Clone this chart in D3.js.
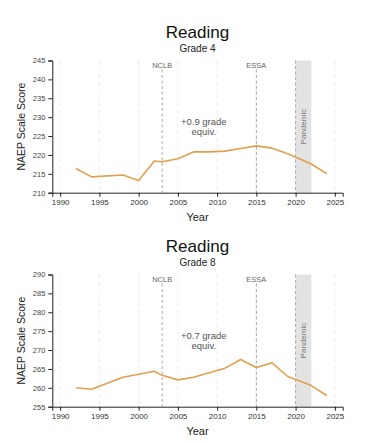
<!DOCTYPE html>
<html>
<head>
    <script src="https://cdnjs.cloudflare.com/ajax/libs/d3/7.8.5/d3.min.js"></script>
    <style>
        body { margin: 0; background: #fff; }
        text { font-family: "Liberation Sans", Arial, sans-serif; }
        .domain, .tick line { stroke: #222; }
    </style>
</head>
<body>
    <svg width="386" height="441"></svg>
    <script>
        // Data
        const years = [1992, 1994, 1998, 2000, 2002, 2003, 2005, 2007, 2009, 2011, 2013, 2015, 2017, 2019, 2022, 2024];
        const grade4 = [216.4, 214.2, 214.7, 213.2, 218.4, 218.2, 219.0, 220.8, 220.8, 221.0, 221.7, 222.4, 221.8, 220.3, 217.6, 215.0];
        const grade8 = [260.0, 259.6, 262.8, 263.6, 264.4, 263.3, 262.1, 262.8, 264.0, 265.2, 267.5, 265.4, 266.6, 263.0, 260.6, 257.9];
        const xTicks = [1990, 1995, 2000, 2005, 2010, 2015, 2020, 2025];
        const events = [{ year: 2003, label: "NCLB" }, { year: 2015, label: "ESSA" }];
        const pandemic = [2020, 2022];

        const charts = [
            { title: "Reading", sub: "Grade 4", values: grade4, yDomain: [210, 245], note: ["+0.9 grade", "equiv."], top: 0 },
            { title: "Reading", sub: "Grade 8", values: grade8, yDomain: [255, 290], note: ["+0.7 grade", "equiv."], top: 214 }
        ];

        const svg = d3.select("svg");
        const x = d3.scaleLinear().domain([1989, 2026]).range([52.3, 342.7]);

        charts.forEach(c => {
            const g = svg.append("g").attr("transform", `translate(0,${c.top})`);
            const y = d3.scaleLinear().domain(c.yDomain).range([192.7, 60.5]);
            const y0 = y.range()[0], y1 = y.range()[1];

            // title
            g.append("text").attr("x", 197.5).attr("y", 37.5)
                .attr("text-anchor", "middle").style("font-size", "17px").attr("fill", "#111")
                .text(c.title);
            g.append("text").attr("x", 197.5).attr("y", 51.5)
                .attr("text-anchor", "middle").style("font-size", "10px").attr("fill", "#222")
                .text(c.sub);

            // light grid
            g.selectAll(".grid").data(xTicks).enter().append("line")
                .attr("x1", d => x(d)).attr("x2", d => x(d))
                .attr("y1", y1).attr("y2", y0)
                .attr("stroke", "#e6e6e6").attr("stroke-width", 0.8)
                .attr("stroke-dasharray", "4,3");

            // pandemic band
            g.append("rect")
                .attr("x", x(pandemic[0])).attr("width", x(pandemic[1]) - x(pandemic[0]))
                .attr("y", y1).attr("height", y0 - y1)
                .attr("fill", "#e3e3e3");
            g.append("text")
                .attr("transform", `translate(${(x(pandemic[0]) + x(pandemic[1])) / 2 + 2.5},${(y0 + y1) / 2}) rotate(-90)`)
                .attr("text-anchor", "middle").style("font-size", "8px").attr("fill", "#777")
                .text("Pandemic");

            // event lines
            const ev = events.concat([{ year: pandemic[0], label: "" }]);
            g.selectAll(".ev").data(ev).enter().append("line")
                .attr("x1", d => x(d.year)).attr("x2", d => x(d.year))
                .attr("y1", d => d.label ? y1 + 9 : y1).attr("y2", y0)
                .attr("stroke", "#aaa").attr("stroke-width", 1)
                .attr("stroke-dasharray", "3,2.5");
            g.selectAll(".evl").data(events).enter().append("text")
                .attr("x", d => x(d.year)).attr("y", 67.5)
                .attr("text-anchor", "middle").style("font-size", "7.5px").attr("fill", "#666")
                .text(d => d.label);

            // annotation
            g.append("text").attr("x", x(2008.3)).attr("y", 124.5)
                .attr("text-anchor", "middle").style("font-size", "9.5px").attr("fill", "#555")
                .text(c.note[0]);
            g.append("text").attr("x", x(2008.3)).attr("y", 135)
                .attr("text-anchor", "middle").style("font-size", "9.5px").attr("fill", "#555")
                .text(c.note[1]);

            // axes
            g.append("g").attr("transform", `translate(52.3,0)`)
                .call(d3.axisLeft(y).ticks(7).tickSize(4).tickPadding(3))
                .call(a => a.selectAll("text").attr("fill", "#444").style("font-size", "7.5px"));
            g.append("g").attr("transform", `translate(0,${y0})`)
                .call(d3.axisBottom(x).tickValues(xTicks).tickFormat(d3.format("d")).tickSize(4).tickPadding(3))
                .call(a => a.selectAll("text").attr("fill", "#333").style("font-size", "8px"));

            g.append("text").attr("x", 197.5).attr("y", 221)
                .attr("text-anchor", "middle").style("font-size", "11px").attr("fill", "#222")
                .text("Year");
            g.append("text")
                .attr("transform", `translate(25,${(y0 + y1) / 2}) rotate(-90)`)
                .attr("text-anchor", "middle").style("font-size", "10.5px").attr("fill", "#222")
                .text("NAEP Scale Score");

            // line
            const line = d3.line().x((d, i) => x(years[i])).y(d => y(d));
            g.append("path").datum(c.values)
                .attr("fill", "none").attr("stroke", "#e2a04e").attr("stroke-width", 1.6)
                .attr("stroke-linejoin", "round")
                .attr("d", line);
        });
    </script>
</body>
</html>
